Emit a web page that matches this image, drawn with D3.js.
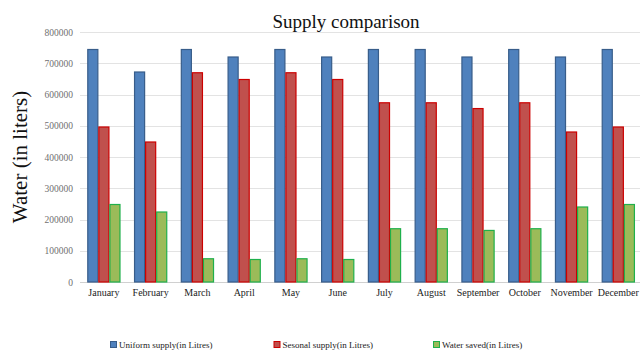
<!DOCTYPE html>
<html>
<head>
<meta charset="utf-8">
<script src="https://cdn.jsdelivr.net/npm/d3@7/dist/d3.min.js"></script>
<style>
  html, body { margin: 0; padding: 0; background: #ffffff; }
  svg { display: block; }
  text { font-family: "Liberation Serif", "Times New Roman", serif; }
</style>
</head>
<body>
<svg id="chart" width="640" height="350"></svg>
<script>
// Monthly water volumes (litres)
const months = ["January", "February", "March", "April", "May", "June",
                "July", "August", "September", "October", "November", "December"];
const uniformSupply = [744000, 672000, 744000, 720000, 744000, 720000,
                       744000, 744000, 720000, 744000, 720000, 744000];
const seasonalSupply = [496000, 448000, 669600, 648000, 669600, 648000,
                        573500, 573500, 555000, 573500, 480000, 496000];
const waterSaved = [248000, 224000, 74400, 72000, 74400, 72000,
                    170500, 170500, 165000, 170500, 240000, 248000];
const yTicks = [0, 100000, 200000, 300000, 400000, 500000, 600000, 700000, 800000];
const seriesNames = ["Uniform supply(in Litres)", "Sesonal supply(in Litres)", "Water saved(in Litres)"];

const seriesStyle = [
  { fill: "#4f81bd", stroke: "#385d8a" },
  { fill: "#c0504d", stroke: "#cc0000" },
  { fill: "#9bbb59", stroke: "#1fb04c" }
];

const svg = d3.select("#chart");
const plot = { left: 80.5, right: 641.7, top: 32, bottom: 282 };

const x = d3.scaleBand()
  .domain(months)
  .range([plot.left, plot.right])
  .paddingInner(0.29)
  .paddingOuter(0.145);

const keys = [0, 1, 2];
const xs = d3.scaleBand().domain(keys).range([0, x.bandwidth()]).padding(0);

const y = d3.scaleLinear().domain([0, 800000]).range([plot.bottom, plot.top]);

// gridlines
svg.append("g")
  .selectAll("line")
  .data(yTicks)
  .join("line")
  .attr("x1", 80)
  .attr("x2", 640)
  .attr("y1", d => Math.round(y(d)) + 0.5)
  .attr("y2", d => Math.round(y(d)) + 0.5)
  .attr("stroke", d => d === 0 ? "#d0d0d0" : "#e3e3e3")
  .attr("stroke-width", 1);

// y tick labels
const yAxis = d3.axisLeft(y).tickValues(yTicks).tickSize(0).tickPadding(0)
  .tickFormat(d3.format("d"));
const gy = svg.append("g").attr("transform", "translate(73,0)").call(yAxis);
gy.select(".domain").remove();
gy.selectAll("text")
  .attr("fill", "#707070")
  .style("font-size", "9.5px")
  .style("font-family", "'Liberation Serif', serif");

// x category labels
const xAxis = d3.axisBottom(x).tickSize(0).tickPadding(0);
const gx = svg.append("g").attr("transform", "translate(0,289)").call(xAxis);
gx.select(".domain").remove();
gx.selectAll("text")
  .attr("fill", "#222")
  .style("font-size", "10px")
  .style("font-family", "'Liberation Serif', serif");

// bars
const series = [uniformSupply, seasonalSupply, waterSaved];
const groups = svg.append("g")
  .selectAll("g")
  .data(months)
  .join("g")
  .attr("transform", d => `translate(${x(d)},0)`);

groups.selectAll("rect")
  .data((m, i) => keys.map(k => ({ k, v: series[k][i] })))
  .join("rect")
  .attr("x", d => xs(d.k) + 0.5)
  .attr("width", xs.bandwidth() - 1)
  .attr("y", d => y(d.v))
  .attr("height", d => y(0) - y(d.v))
  .attr("fill", d => seriesStyle[d.k].fill)
  .attr("stroke", d => seriesStyle[d.k].stroke)
  .attr("stroke-width", 1.2);

// title
svg.append("text")
  .attr("x", 346)
  .attr("y", 28)
  .attr("text-anchor", "middle")
  .style("font-size", "19px")
  .attr("fill", "#111")
  .text("Supply comparison");

// y axis title
svg.append("text")
  .attr("transform", "translate(27,157) rotate(-90)")
  .attr("text-anchor", "middle")
  .style("font-size", "21px")
  .attr("fill", "#111")
  .text("Water (in liters)");

// legend
const legendX = [110, 273.5, 433];
const legend = svg.append("g")
  .selectAll("g")
  .data(seriesNames)
  .join("g")
  .attr("transform", (d, i) => `translate(${legendX[i]},341)`);
legend.append("rect")
  .attr("x", 0.5).attr("y", 0.5)
  .attr("width", 6).attr("height", 6)
  .attr("fill", (d, i) => seriesStyle[i].fill)
  .attr("stroke", (d, i) => seriesStyle[i].stroke)
  .attr("stroke-width", 1);
legend.append("text")
  .attr("x", 9)
  .attr("y", 6.5)
  .style("font-size", "9px")
  .attr("fill", "#222")
  .text(d => d);
</script>
</body>
</html>
